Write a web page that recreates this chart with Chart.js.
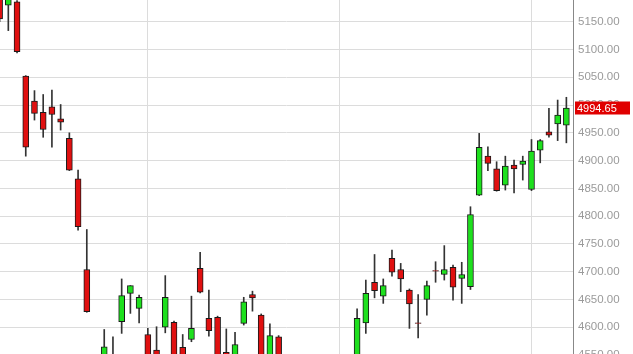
<!DOCTYPE html>
<html>
<head>
<meta charset="utf-8">
<script src="https://cdn.jsdelivr.net/npm/chart.js@4/dist/chart.umd.min.js"></script>
<style>
  html, body { margin: 0; padding: 0; overflow: hidden; background: #fff; }
  #wrap { width: 633px; height: 360px; position: relative; }
</style>
</head>
<body>
<div id="wrap"><canvas id="c"></canvas></div>
<script>
// Daily candles, index 0 = left-most (partially cut) candle
const opens  = [5200,5180,5186,5052,5007,4987,4997,4975,4940,4867,4704,4545,4530,4540,4610,4661,4634,4587,4559,4600,
                4609,4564,4578,4706,4616,4618,4555,4520,4607,4659,4622,4530,4583,4520,4490,4470,4490,4505,4485,4500,
                4525,4540,4608,4681,4656,4724,4704,4667,4608,4650,4702,4695,4708,4688,4673,4838,4908,4885,4856,4892,
                4893,4848,4919,4952,4966,4964];
const highs  = [5215,5205,5188,5053,5026,5019,5027,5001,4950,4883,4776,4550,4596,4583,4687,4675,4658,4598,4601,4693,
                4611,4587,4656,4735,4667,4620,4597,4591,4654,4665,4624,4606,4585,4535,4510,4500,4520,4530,4515,4535,
                4545,4633,4685,4731,4687,4739,4715,4669,4659,4683,4718,4747,4712,4717,4817,4949,4925,4898,4908,4901,
                4908,4938,4938,4994,5009,5014];
const lows   = [5150,5134,5094,4908,4973,4942,4924,4955,4882,4775,4627,4490,4520,4500,4589,4625,4608,4520,4510,4590,
                4520,4515,4574,4662,4584,4520,4500,4510,4604,4629,4520,4520,4510,4480,4450,4440,4460,4480,4470,4490,
                4500,4535,4589,4653,4643,4692,4664,4598,4581,4622,4681,4685,4649,4643,4668,4837,4882,4845,4847,4842,
                4865,4846,4896,4942,4936,4932];
const closes = [5155,5195,5096,4924,4985,4956,4983,4969,4883,4781,4628,4500,4565,4520,4657,4675,4654,4530,4520,4654,
                4530,4525,4598,4663,4594,4530,4510,4569,4646,4653,4530,4585,4520,4490,4470,4490,4505,4485,4500,4525,
                4540,4616,4661,4666,4675,4699,4687,4642,4607,4675,4701,4704,4672,4695,4803,4924,4895,4846,4890,4885,
                4899,4917,4936,4946,4982,4994.65];
const priceTicks = [4550,4600,4650,4700,4750,4800,4850,4900,4950,5000,5050,5100,5150];
const priceTickLabels = ['4550.00','4600.00','4650.00','4700.00','4750.00','4800.00','4850.00','4900.00','4950.00','5000.00','5050.00','5100.00','5150.00'];
const monthGridIdx = [17, 39, 61];
const lastPriceLabel = '4994.65';

const UP = '#1ee01e', DOWN = '#e01010';
const idx = opens.map((_, i) => i);
const bodyData = idx.map(i => ({ x: i, y: [opens[i], closes[i]] }));
const wickData = idx.map(i => ({ x: i, y: [lows[i], highs[i]] }));
const bodyColors = idx.map(i => closes[i] >= opens[i] ? UP : DOWN);

const lastLabelPlugin = {
  id: 'lastLabel',
  afterDraw(chart) {
    const y = chart.scales.y;
    const py = y.getPixelForValue(closes[closes.length - 1]);
    const ctx = chart.ctx;
    ctx.save();
    ctx.fillStyle = '#e00000';
    ctx.fillRect(y.left + 2, Math.round(py) - 6.5, 55, 13);
    ctx.fillStyle = '#ffffff';
    ctx.font = '11px Arial, "Liberation Sans", sans-serif';
    ctx.textBaseline = 'middle';
    ctx.textAlign = 'left';
    ctx.fillText(lastPriceLabel, y.left + 4, Math.round(py) + 0.5);
    ctx.restore();
  }
};

new Chart(document.getElementById('c'), {
  type: 'bar',
  data: {
    datasets: [
      {
        label: 'wick', data: wickData, order: 2, grouped: false,
        backgroundColor: '#333333', borderWidth: 0, barThickness: 1
      },
      {
        label: 'body', data: bodyData, order: 1, grouped: false,
        backgroundColor: bodyColors, borderColor: '#1a1a1a', borderWidth: 1,
        borderSkipped: false, barThickness: 6
      }
    ]
  },
  options: {
    responsive: true,
    maintainAspectRatio: false,
    animation: false,
    layout: { padding: 0 },
    plugins: { legend: { display: false }, tooltip: { enabled: false } },
    scales: {
      x: {
        type: 'linear',
        min: 0.046, max: 65.76,
        offset: false,
        grid: { color: '#dcdcdc', lineWidth: 1, drawTicks: false, offset: false },
        border: { display: false },
        ticks: { display: false },
        afterBuildTicks: s => { s.ticks = monthGridIdx.map(v => ({ value: v })); },
        afterFit: s => { s.height = 0; s.paddingLeft = 0; s.paddingRight = 0; }
      },
      y: {
        type: 'linear',
        position: 'right',
        min: 4541.1, max: 5189.1,
        grace: 0,
        grid: { color: '#dcdcdc', lineWidth: 1, drawTicks: false },
        border: { display: true, color: '#888888', width: 1 },
        ticks: {
          includeBounds: false,
          padding: 5,
          color: '#9a9a9a',
          font: { family: 'Arial, "Liberation Sans", sans-serif', size: 11.5 },
          callback: (v) => { const k = priceTicks.indexOf(v); return k >= 0 ? priceTickLabels[k] : ''; }
        },
        afterBuildTicks: s => { s.ticks = priceTicks.map(v => ({ value: v })); },
        afterFit: s => { s.width = 60; s.paddingTop = 0; s.paddingBottom = 0; }
      }
    }
  },
  plugins: [lastLabelPlugin]
});
</script>
</body>
</html>
